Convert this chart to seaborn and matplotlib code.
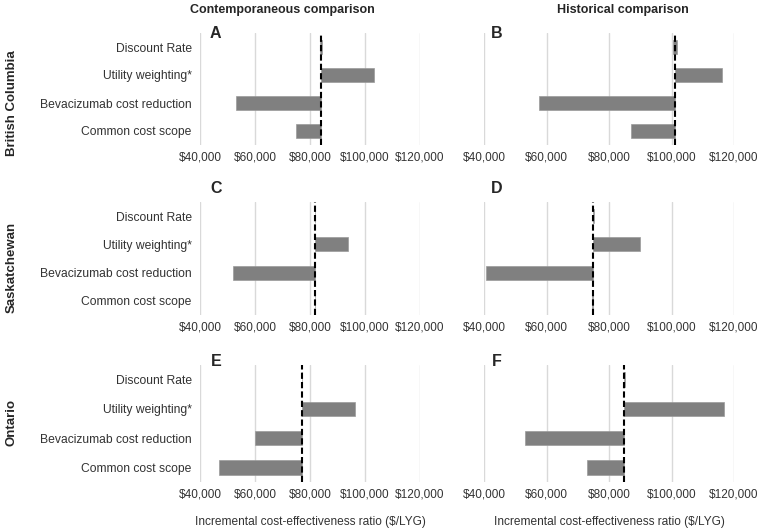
import pandas as pd
import matplotlib.pyplot as plt
import seaborn as sns
from matplotlib.ticker import FuncFormatter

params = ["Discount Rate", "Utility weighting*", "Bevacizumab cost reduction", "Common cost scope"]
panels = ["A", "B", "C", "D", "E", "F"]
provinces = ["British Columbia", "Saskatchewan", "Ontario"]
comparisons = ["Contemporaneous comparison", "Historical comparison"]

# base-case ICER for each panel
base = [84000, 101000, 81900, 74800, 77200, 84800]

# low / high ICER of each parameter, per panel
low = [
    [83700, 84000, 53200, 75000],
    [100600, 101000, 57700, 87100],
    [81900, 81900, 51900, 81900],
    [74800, 74800, 40600, 74500],
    [77200, 77200, 60100, 46800],
    [84700, 84800, 53200, 73000],
]
high = [
    [84300, 103200, 84000, 84000],
    [101900, 116300, 101000, 101000],
    [81900, 93900, 81900, 81900],
    [75300, 90000, 74800, 74800],
    [77200, 96500, 77200, 77200],
    [85000, 116900, 84800, 84800],
]

sns.set_theme(style="white")
plt.rcParams["font.family"] = ["Liberation Sans", "DejaVu Sans"]

fig = plt.figure(figsize=(7.6, 5.31), dpi=100)
W, H = 760, 531

# axes boxes in pixels: (left, top, width, height)
col_x = [(200, 220), (484, 250)]
row_y = [(33, 112), (202, 113), (365, 117)]
letter_xy = [(215, 33), (497, 33), (216, 189), (497, 189), (216, 361), (497, 361)]

money = FuncFormatter(lambda v, p: "${:,.0f}".format(v))

for i, panel in enumerate(panels):
    r, c = divmod(i, 2)
    x0, w = col_x[c]
    y0, h = row_y[r]
    ax = fig.add_axes([x0 / W, 1 - (y0 + h) / H, w / W, h / H])

    df = pd.DataFrame({
        "param": params,
        "low": low[i],
        "span": [hi - lo for hi, lo in zip(high[i], low[i])],
    })
    sns.barplot(data=df, x="span", y="param", left=df["low"], color="#808080",
                saturation=1, width=0.5, edgecolor="#9a9a9a", linewidth=0.5, ax=ax, zorder=3)
    ax.axvline(base[i], color="black", linestyle=(0, (3, 1.5)), linewidth=1.5, zorder=4)

    ax.set_xlim(40000, 120000)
    ax.set_ylim(3.5, -0.5)
    ax.set_xticks(range(40000, 120001, 20000))
    ax.xaxis.set_major_formatter(money)
    ax.grid(axis="x", color="#d9d9d9", linewidth=1, zorder=0)
    ax.set_axisbelow(True)
    sns.despine(ax=ax, left=True, bottom=True)
    ax.tick_params(axis="x", length=0, labelsize=8.5, colors="#333333", pad=5)
    ax.tick_params(axis="y", length=0, labelsize=8.7, colors="#333333", pad=6)
    ax.set_ylabel("")
    ax.set_xlabel("")
    if c == 1:
        ax.set_yticklabels([])
    if r == 2:
        ax.set_xlabel("Incremental cost-effectiveness ratio ($/LYG)", fontsize=8.6,
                      color="#333333", labelpad=11)
    lx, ly = letter_xy[i]
    fig.text(lx / W, 1 - ly / H, panel, fontsize=11.5, fontweight="bold",
             ha="center", va="center")

for c, title in enumerate(comparisons):
    cx = [282, 623][c]
    fig.text(cx / W, 1 - 10 / H, title, ha="center", va="center",
             fontsize=9, fontweight="bold")

for r, prov in enumerate(provinces):
    cy = [103, 267, 423][r]
    fig.text(12 / W, 1 - cy / H, prov, ha="center", va="center", rotation=90,
             fontsize=9.5, fontweight="bold")

plt.savefig("out.png", dpi=100)
